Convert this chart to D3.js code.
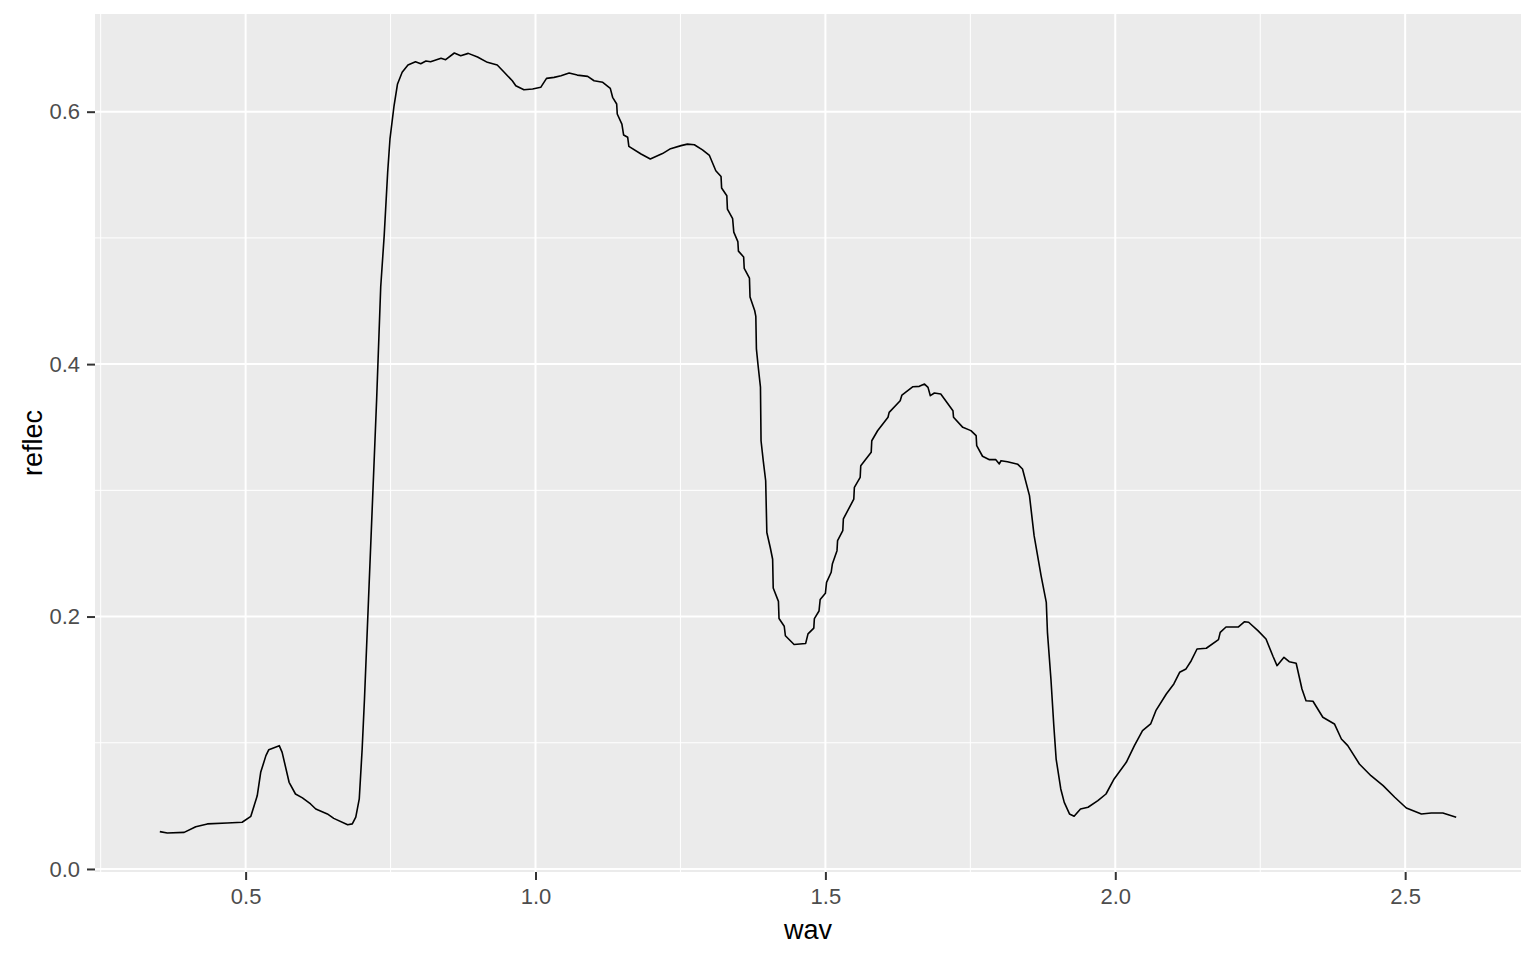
<!DOCTYPE html>
<html>
<head>
<meta charset="utf-8">
<script src="https://cdn.jsdelivr.net/npm/d3@7"></script>
<style>
  body { margin: 0; background: #fff; }
  svg { display: block; font-family: "Liberation Sans", Arial, sans-serif; }
  .tick text { fill: #4D4D4D; font-size: 22px; }
  .tick line { stroke: #333333; stroke-width: 2; }
</style>
</head>
<body>
<div id="chart"></div>
<script>
// spectrum values
var wav = [0.352, 0.365, 0.394, 0.414, 0.434, 0.468, 0.494, 0.509, 0.520, 0.526,
  0.535, 0.540, 0.558, 0.563, 0.575, 0.586, 0.598, 0.612, 0.621, 0.641,
  0.652, 0.676, 0.684, 0.690, 0.696, 0.701, 0.705, 0.712, 0.719, 0.726,
  0.733, 0.739, 0.745, 0.749, 0.756, 0.762, 0.770, 0.780, 0.793, 0.802,
  0.811, 0.819, 0.837, 0.845, 0.860, 0.871, 0.884, 0.900, 0.917, 0.934,
  0.946, 0.960, 0.966, 0.980, 0.995, 1.009, 1.019, 1.032, 1.044, 1.058,
  1.072, 1.090, 1.101, 1.116, 1.129, 1.133, 1.140, 1.141, 1.149, 1.152,
  1.159, 1.161, 1.182, 1.198, 1.219, 1.233, 1.251, 1.262, 1.274, 1.288,
  1.300, 1.311, 1.320, 1.321, 1.330, 1.331, 1.340, 1.342, 1.349, 1.350,
  1.359, 1.360, 1.369, 1.370, 1.378, 1.380, 1.381, 1.384, 1.388, 1.389,
  1.393, 1.397, 1.399, 1.405, 1.409, 1.410, 1.419, 1.420, 1.429, 1.431,
  1.446, 1.466, 1.470, 1.480, 1.481, 1.489, 1.491, 1.500, 1.502, 1.510,
  1.512, 1.520, 1.521, 1.530, 1.531, 1.549, 1.550, 1.560, 1.561, 1.579,
  1.580, 1.590, 1.608, 1.610, 1.629, 1.632, 1.651, 1.662, 1.671, 1.677,
  1.681, 1.688, 1.699, 1.720, 1.721, 1.737, 1.751, 1.760, 1.761, 1.771,
  1.783, 1.794, 1.800, 1.803, 1.814, 1.832, 1.840, 1.852, 1.860, 1.872,
  1.881, 1.883, 1.889, 1.894, 1.898, 1.906, 1.912, 1.921, 1.929, 1.940,
  1.953, 1.970, 1.984, 1.998, 2.019, 2.033, 2.047, 2.061, 2.070, 2.088,
  2.101, 2.111, 2.122, 2.131, 2.141, 2.157, 2.178, 2.181, 2.191, 2.212,
  2.223, 2.230, 2.246, 2.260, 2.272, 2.279, 2.291, 2.300, 2.312, 2.322,
  2.329, 2.341, 2.358, 2.378, 2.390, 2.401, 2.421, 2.441, 2.462, 2.482,
  2.502, 2.528, 2.545, 2.565, 2.588];

var reflec = [0.0296, 0.0285, 0.0290, 0.0335, 0.0357, 0.0364, 0.0370, 0.0417, 0.0580, 0.0766,
  0.0898, 0.0945, 0.0977, 0.0924, 0.0687, 0.0594, 0.0563, 0.0515, 0.0475, 0.0436,
  0.0401, 0.0351, 0.0357, 0.0410, 0.0555, 0.0950, 0.1347, 0.2139, 0.2931, 0.3724,
  0.4611, 0.5018, 0.5520, 0.5784, 0.6047, 0.6220, 0.6312, 0.6370, 0.6396, 0.6380,
  0.6402, 0.6396, 0.6423, 0.6412, 0.6465, 0.6444, 0.6462, 0.6433, 0.6391, 0.6370,
  0.6312, 0.6245, 0.6206, 0.6174, 0.6180, 0.6193, 0.6264, 0.6272, 0.6285, 0.6306,
  0.6290, 0.6280, 0.6245, 0.6233, 0.6185, 0.6114, 0.6061, 0.5982, 0.5902, 0.5815,
  0.5797, 0.5725, 0.5665, 0.5625, 0.5668, 0.5707, 0.5731, 0.5743, 0.5738, 0.5698,
  0.5653, 0.5532, 0.5486, 0.5395, 0.5334, 0.5228, 0.5152, 0.5046, 0.4971, 0.4895,
  0.4849, 0.4758, 0.4682, 0.4531, 0.4425, 0.4379, 0.4121, 0.3985, 0.3818, 0.3393,
  0.3227, 0.3076, 0.2666, 0.2545, 0.2454, 0.2226, 0.2120, 0.1984, 0.1923, 0.1848,
  0.1778, 0.1787, 0.1863, 0.1908, 0.1984, 0.2044, 0.2135, 0.2184, 0.2271, 0.2351,
  0.2416, 0.2522, 0.2601, 0.2680, 0.2773, 0.2931, 0.3024, 0.3103, 0.3195, 0.3301,
  0.3393, 0.3472, 0.3579, 0.3618, 0.3710, 0.3755, 0.3821, 0.3824, 0.3842, 0.3816,
  0.3750, 0.3771, 0.3763, 0.3631, 0.3579, 0.3499, 0.3473, 0.3433, 0.3354, 0.3270,
  0.3243, 0.3243, 0.3209, 0.3235, 0.3227, 0.3206, 0.3169, 0.2958, 0.2641, 0.2324,
  0.2113, 0.1875, 0.1505, 0.1135, 0.0871, 0.0634, 0.0528, 0.0436, 0.0418, 0.0475,
  0.0489, 0.0541, 0.0594, 0.0713, 0.0845, 0.0977, 0.1096, 0.1149, 0.1254, 0.1386,
  0.1466, 0.1558, 0.1585, 0.1650, 0.1743, 0.1749, 0.1817, 0.1875, 0.1917, 0.1917,
  0.1959, 0.1955, 0.1888, 0.1822, 0.1685, 0.1611, 0.1677, 0.1642, 0.1630, 0.1426,
  0.1333, 0.1329, 0.1202, 0.1149, 0.1030, 0.0977, 0.0832, 0.0739, 0.0660, 0.0568,
  0.0483, 0.0436, 0.0444, 0.0444, 0.0410];

var xTicks = [0.5, 1.0, 1.5, 2.0, 2.5];
var yTicks = [0.0, 0.2, 0.4, 0.6];
var xMinor = [0.25, 0.75, 1.25, 1.75, 2.25];
var yMinor = [0.1, 0.3, 0.5];

var svgWidth = 1536;
var svgHeight = 960;
var margin = { top: 14, right: 15, bottom: 88, left: 95 };
var width = svgWidth - margin.left - margin.right;
var height = svgHeight - margin.top - margin.bottom;

var data = wav.map(function(w, i) { return { wav: w, reflec: reflec[i] }; });

// ggplot style 5% padding
function padded(ext) {
  var pad = (ext[1] - ext[0]) * 0.05;
  return [ext[0] - pad, ext[1] + pad];
}

var xScale = d3.scaleLinear()
  .domain(padded(d3.extent(wav)))
  .range([0, width]);

var yScale = d3.scaleLinear()
  .domain(padded(d3.extent(reflec)))
  .range([height, 0]);

var svg = d3.select("#chart")
  .append("svg")
  .attr("width", svgWidth)
  .attr("height", svgHeight);

var chartGroup = svg.append("g")
  .attr("transform", `translate(${margin.left}, ${margin.top})`);

chartGroup.append("rect")
  .attr("width", width)
  .attr("height", height)
  .attr("fill", "#EBEBEB");

// minor grid
chartGroup.selectAll(".xminor")
  .data(xMinor)
  .enter()
  .append("line")
  .attr("x1", d => xScale(d))
  .attr("x2", d => xScale(d))
  .attr("y1", 0)
  .attr("y2", height)
  .attr("stroke", "#fff")
  .attr("stroke-width", 1);

chartGroup.selectAll(".yminor")
  .data(yMinor)
  .enter()
  .append("line")
  .attr("x1", 0)
  .attr("x2", width)
  .attr("y1", d => yScale(d))
  .attr("y2", d => yScale(d))
  .attr("stroke", "#fff")
  .attr("stroke-width", 1);

// major grid
chartGroup.selectAll(".xmajor")
  .data(xTicks)
  .enter()
  .append("line")
  .attr("x1", d => xScale(d))
  .attr("x2", d => xScale(d))
  .attr("y1", 0)
  .attr("y2", height)
  .attr("stroke", "#fff")
  .attr("stroke-width", 2);

chartGroup.selectAll(".ymajor")
  .data(yTicks)
  .enter()
  .append("line")
  .attr("x1", 0)
  .attr("x2", width)
  .attr("y1", d => yScale(d))
  .attr("y2", d => yScale(d))
  .attr("stroke", "#fff")
  .attr("stroke-width", 2);

var line = d3.line()
  .x(d => xScale(d.wav))
  .y(d => yScale(d.reflec));

chartGroup.append("path")
  .datum(data)
  .attr("d", line)
  .attr("fill", "none")
  .attr("stroke", "#000")
  .attr("stroke-width", 1.6)
  .attr("stroke-linejoin", "round");

var xAxis = d3.axisBottom(xScale)
  .tickValues(xTicks)
  .tickFormat(d3.format(".1f"))
  .tickSize(8)
  .tickPadding(8);

var yAxis = d3.axisLeft(yScale)
  .tickValues(yTicks)
  .tickFormat(d3.format(".1f"))
  .tickSize(8)
  .tickPadding(7);

var gx = chartGroup.append("g")
  .attr("transform", `translate(0, ${height})`)
  .call(xAxis);

var gy = chartGroup.append("g")
  .call(yAxis);

gx.select(".domain").remove();
gy.select(".domain").remove();
gx.selectAll("text").attr("font-family", null).attr("font-size", null);
gy.selectAll("text").attr("font-family", null).attr("font-size", null);

// axis titles
svg.append("text")
  .attr("x", margin.left + width / 2)
  .attr("y", 939)
  .attr("text-anchor", "middle")
  .attr("font-size", 27)
  .attr("fill", "#000")
  .text("wav");

svg.append("text")
  .attr("transform", `translate(41.5, ${margin.top + height / 2}) rotate(-90)`)
  .attr("text-anchor", "middle")
  .attr("font-size", 27)
  .attr("fill", "#000")
  .text("reflec");
</script>
</body>
</html>
